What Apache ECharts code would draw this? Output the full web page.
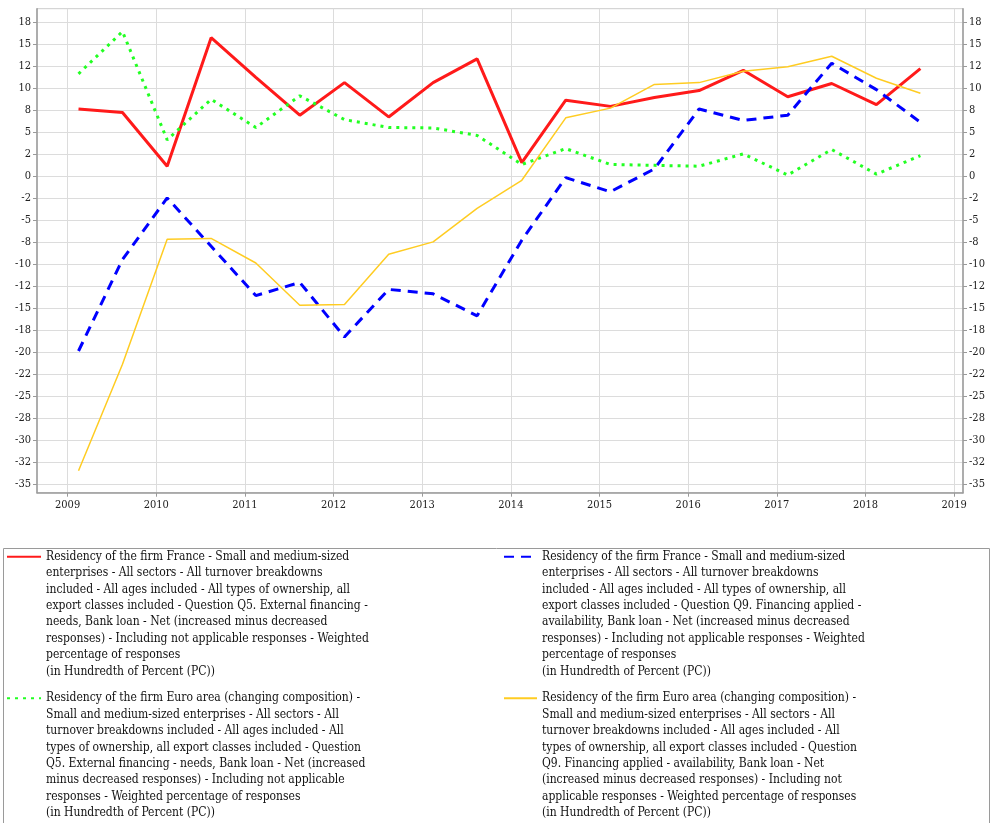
<!DOCTYPE html>
<html>
<head>
<meta charset="utf-8">
<script src="https://cdn.jsdelivr.net/npm/echarts@6.0.0/dist/echarts.min.js"></script>
<style>
  html, body { margin: 0; padding: 0; background: #fff; }
  #chart { width: 991px; height: 823px; }
</style>
</head>
<body>
<div id="chart"></div>
<script>
  /* Half-yearly survey rounds, Feb and Aug of each year */
  const periods = [
    '2009-02-15', '2009-08-15', '2010-02-15', '2010-08-15', '2011-02-15',
    '2011-08-15', '2012-02-15', '2012-08-15', '2013-02-15', '2013-08-15',
    '2014-02-15', '2014-08-15', '2015-02-15', '2015-08-15', '2016-02-15',
    '2016-08-15', '2017-02-15', '2017-08-15', '2018-02-15', '2018-08-15'
  ];

  const franceNeeds = [7.6, 7.2, 1.1, 15.7, 11.2, 6.9, 10.6, 6.7, 10.6, 13.3,
                       1.5, 8.6, 7.9, 8.9, 9.7, 12.0, 9.0, 10.5, 8.1, 12.2];
  const franceAvail = [-19.9, -9.5, -2.5, -8.0, -13.6, -12.1, -18.3, -12.9, -13.4, -15.9,
                       -7.3, -0.2, -1.8, 0.8, 7.6, 6.3, 6.9, 12.8, 9.8, 6.1];
  const euroNeeds   = [11.6, 16.4, 4.1, 8.7, 5.5, 9.1, 6.4, 5.5, 5.45, 4.6,
                       1.3, 3.1, 1.3, 1.2, 1.1, 2.5, 0.1, 3.0, 0.2, 2.3];
  const euroAvail   = [-33.5, -21.4, -7.2, -7.1, -9.9, -14.7, -14.6, -8.9, -7.5, -3.7,
                       -0.5, 6.6, 7.7, 10.4, 10.6, 11.9, 12.4, 13.6, 11.1, 9.4];

  const yearTicks  = [2009, 2010, 2011, 2012, 2013, 2014, 2015, 2016, 2017, 2018, 2019];
  const valueTicks = [-35, -32.5, -30, -27.5, -25, -22.5, -20, -17.5, -15, -12.5, -10, -7.5, -5,
                      -2.5, 0, 2.5, 5, 7.5, 10, 12.5, 15, 17.5];

  const legendLines = [
    ['Residency of the firm France - Small and medium-sized',
     'enterprises - All sectors - All turnover breakdowns',
     'included - All ages included - All types of ownership, all',
     'export classes included - Question Q5. External financing -',
     'needs, Bank loan - Net (increased minus decreased',
     'responses) - Including not applicable responses - Weighted',
     'percentage of responses',
     '(in Hundredth of Percent (PC))'],
    ['Residency of the firm France - Small and medium-sized',
     'enterprises - All sectors - All turnover breakdowns',
     'included - All ages included - All types of ownership, all',
     'export classes included - Question Q9. Financing applied -',
     'availability, Bank loan - Net (increased minus decreased',
     'responses) - Including not applicable responses - Weighted',
     'percentage of responses',
     '(in Hundredth of Percent (PC))'],
    ['Residency of the firm Euro area (changing composition) -',
     'Small and medium-sized enterprises - All sectors - All',
     'turnover breakdowns included - All ages included - All',
     'types of ownership, all export classes included - Question',
     'Q5. External financing - needs, Bank loan - Net (increased',
     'minus decreased responses) - Including not applicable',
     'responses - Weighted percentage of responses',
     '(in Hundredth of Percent (PC))'],
    ['Residency of the firm Euro area (changing composition) -',
     'Small and medium-sized enterprises - All sectors - All',
     'turnover breakdowns included - All ages included - All',
     'types of ownership, all export classes included - Question',
     'Q9. Financing applied - availability, Bank loan - Net',
     '(increased minus decreased responses) - Including not',
     'applicable responses - Weighted percentage of responses',
     '(in Hundredth of Percent (PC))']
  ];

  const FONT = "'DejaVu Serif Condensed', 'DejaVu Serif', serif";
  const LINE_H = 16.4;

  /* date string -> fractional year, so a plain value axis can hold it */
  function toYear(s) {
    const d = new Date(s + 'T00:00:00Z');
    const start = Date.UTC(d.getUTCFullYear(), 0, 1);
    return d.getUTCFullYear() + (d - start) / (365 * 86400000);
  }

  /* tick labels are rounded half-to-even in the source (12.5 -> 12, 7.5 -> 8) */
  function roundHalfEven(v) {
    const f = Math.floor(v);
    if (Math.abs(v - f - 0.5) < 1e-9) return f % 2 === 0 ? f : f + 1;
    return Math.round(v);
  }

  const xs = periods.map(toYear);
  const pairs = arr => arr.map((v, i) => [xs[i], v]);
  const names = legendLines.map(l => l.join('\n'));

  const chart = echarts.init(document.getElementById('chart'), null, { renderer: 'canvas' });

  const yAxisBase = {
    type: 'value',
    min: -36,
    max: 19,
    axisLine: { show: true, onZero: false, lineStyle: { color: '#9a9a9a', width: 1.5 } },
    axisTick: { show: true, length: 4, customValues: valueTicks, lineStyle: { color: '#9a9a9a' } },
    axisLabel: {
      customValues: valueTicks,
      color: '#222',
      fontFamily: FONT,
      fontSize: 11,
      margin: 6,
      formatter: v => String(roundHalfEven(v))
    },
    splitLine: { show: true, lineStyle: { color: '#dcdcdc', width: 1 } }
  };

  /* one legend per series so each wrapped block sits where the source puts it.
     ECharts centres the text on the icon, so (n-1) blank lines are put in front:
     that brings the first real line level with the icon. */
  function legendAt(i, left, firstLineY, iconW) {
    const n = legendLines[i].length;
    const pad = '\n'.repeat(n - 1);
    return {
      data: [names[i]],
      left: left,
      top: firstLineY - (2 * n - 1) * LINE_H / 2,
      padding: 0,
      itemWidth: iconW,
      itemHeight: 14,
      selectedMode: false,
      itemStyle: { opacity: 0 },
      formatter: name => pad + name,
      textStyle: {
        fontFamily: FONT,
        fontSize: 12,
        color: '#111',
        lineHeight: LINE_H
      }
    };
  }

  chart.setOption({
    animation: false,
    backgroundColor: '#fff',
    grid: {
      left: 37, right: 28, top: 8.7, bottom: 330.3,
      show: true, borderColor: '#cccccc', borderWidth: 1,
      outerBoundsMode: 'none'
    },
    xAxis: {
      type: 'value',
      min: 2008.655,
      max: 2019.1,
      axisLine: { show: true, onZero: false, lineStyle: { color: '#9a9a9a', width: 1.5 } },
      axisTick: { show: true, length: 4, customValues: yearTicks, lineStyle: { color: '#9a9a9a' } },
      axisLabel: {
        customValues: yearTicks,
        color: '#222',
        fontFamily: FONT,
        fontSize: 11,
        margin: 7,
        formatter: v => String(v)
      },
      splitLine: { show: true, lineStyle: { color: '#dcdcdc', width: 1 } }
    },
    yAxis: [
      Object.assign({}, yAxisBase, { position: 'left' }),
      Object.assign({}, yAxisBase, { position: 'right', splitLine: { show: false } })
    ],
    legend: [
      legendAt(0, 6, 556.7, 34),
      legendAt(1, 503, 556.7, 33),
      legendAt(2, 6, 698.3, 34),
      legendAt(3, 503, 698.3, 33)
    ],
    graphic: [{
      type: 'rect',
      silent: true,
      shape: { x: 3.5, y: 548.5, width: 986, height: 300 },
      style: { fill: 'none', stroke: '#9a9a9a', lineWidth: 1 }
    }],
    series: [
      {
        name: names[0], type: 'line', yAxisIndex: 0, showSymbol: false, symbol: 'none',
        data: pairs(franceNeeds),
        lineStyle: { color: '#ff1a1a', width: 3 }, itemStyle: { color: '#ff1a1a' }
      },
      {
        name: names[1], type: 'line', yAxisIndex: 0, showSymbol: false, symbol: 'none',
        data: pairs(franceAvail),
        lineStyle: { color: '#0000ff', width: 3, type: [10, 7] }, itemStyle: { color: '#0000ff' }
      },
      {
        name: names[2], type: 'line', yAxisIndex: 0, showSymbol: false, symbol: 'none',
        data: pairs(euroNeeds),
        lineStyle: { color: '#22ff22', width: 3, type: [3, 5] }, itemStyle: { color: '#22ff22' }
      },
      {
        name: names[3], type: 'line', yAxisIndex: 0, showSymbol: false, symbol: 'none',
        data: pairs(euroAvail),
        lineStyle: { color: '#ffcc22', width: 1.5 }, itemStyle: { color: '#ffcc22' }
      }
    ]
  });
</script>
</body>
</html>
